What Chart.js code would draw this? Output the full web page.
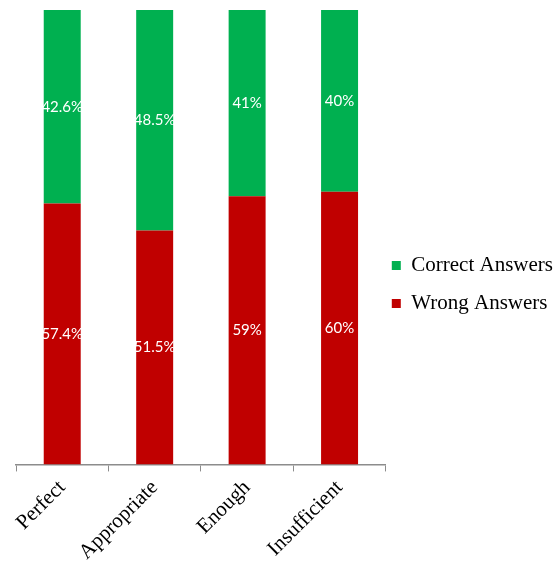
<!DOCTYPE html>
<html>
<head>
<meta charset="utf-8">
<script src="https://cdn.jsdelivr.net/npm/chart.js@4/dist/chart.umd.min.js"></script>
<style>
  html, body { margin: 0; padding: 0; background: #fff; }
  #wrap { width: 556px; height: 562px; }
</style>
</head>
<body>
<div id="wrap"><canvas id="c" width="556" height="562"></canvas></div>
<script>
// Answer quality categories and share of answers (percent)
const categories = ['Perfect', 'Appropriate', 'Enough', 'Insufficient'];
const wrongAnswers = [57.4, 51.5, 59, 60];
const correctAnswers = [42.6, 48.5, 41, 40];
const wrongLabels = ['57.4%', '51.5%', '59%', '60%'];
const correctLabels = ['42.6%', '48.5%', '41%', '40%'];

const serif = '"Liberation Serif", "Times New Roman", serif';

// Writes each segment's percentage in the middle of its bar
const segmentLabels = {
  id: 'segmentLabels',
  afterDatasetsDraw(chart) {
    const ctx = chart.ctx;
    ctx.save();
    ctx.fillStyle = '#ffffff';
    ctx.font = '15px Lato, "DejaVu Sans", sans-serif';
    ctx.textAlign = 'center';
    ctx.textBaseline = 'middle';
    chart.data.datasets.forEach((ds, di) => {
      const meta = chart.getDatasetMeta(di);
      meta.data.forEach((bar, i) => {
        const p = bar.getProps(['x', 'y', 'base'], true);
        ctx.fillText(ds.labelsText[i], p.x, (p.y + p.base) / 2);
      });
    });
    ctx.restore();
  }
};

// Pulls the legend a little closer to the plot and slightly upward
const legendNudge = {
  id: 'legendNudge',
  afterLayout(chart) {
    const lg = chart.legend;
    if (!lg) return;
    lg.left -= 11;
    lg.right -= 11;
    lg.top -= 5;
    lg.bottom -= 5;
  }
};

new Chart(document.getElementById('c'), {
  type: 'bar',
  data: {
    labels: categories,
    datasets: [
      {
        label: 'Wrong Answers',
        data: wrongAnswers,
        labelsText: wrongLabels,
        backgroundColor: '#C00000',
        barPercentage: 0.8,
        categoryPercentage: 0.5
      },
      {
        label: 'Correct Answers',
        data: correctAnswers,
        labelsText: correctLabels,
        backgroundColor: '#00B050',
        barPercentage: 0.8,
        categoryPercentage: 0.5
      }
    ]
  },
  options: {
    responsive: false,
    animation: false,
    layout: { padding: { top: 10, left: 16, right: -18, bottom: -7 } },
    scales: {
      x: {
        stacked: true,
        grid: {
          display: true,
          drawOnChartArea: false,
          drawTicks: true,
          tickLength: 7,
          tickColor: '#8c8c8c',
          offset: true
        },
        border: { display: true, color: '#8c8c8c', width: 1.5 },
        ticks: {
          color: '#000',
          font: { family: serif, size: 21 },
          minRotation: 45,
          maxRotation: 45,
          padding: 4
        }
      },
      y: {
        stacked: true,
        display: false,
        min: 0,
        max: 100
      }
    },
    plugins: {
      legend: {
        position: 'right',
        align: 'center',
        reverse: true,
        labels: {
          boxWidth: 9,
          boxHeight: 9,
          padding: 17,
          color: '#000',
          font: { family: serif, size: 21 }
        }
      },
      tooltip: { enabled: false }
    }
  },
  plugins: [segmentLabels, legendNudge]
});
</script>
</body>
</html>
